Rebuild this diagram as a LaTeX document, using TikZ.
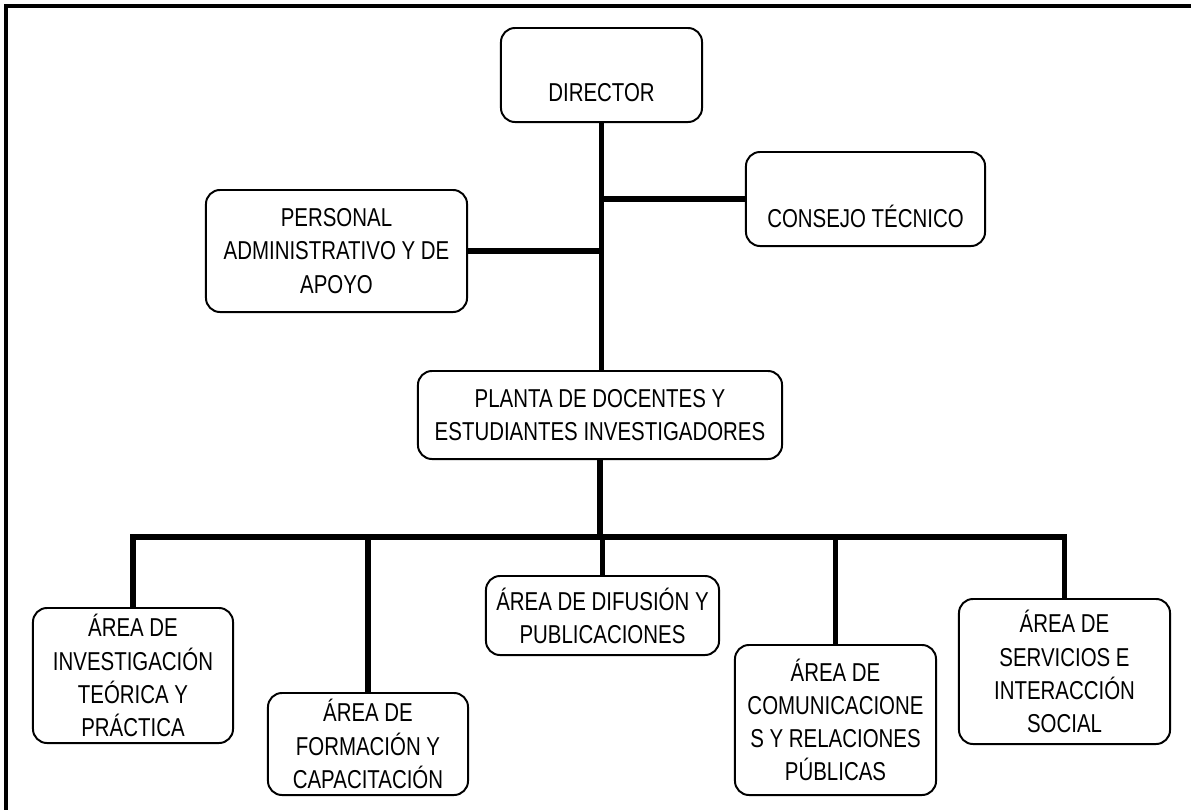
\documentclass[tikz,border=0pt]{standalone}
\usepackage{fontspec}
\setmainfont{Liberation Sans}[FakeStretch=0.79]
\begin{document}
\begin{tikzpicture}[x=0.025cm, y=-0.025cm,
		cargo/.style={draw, line width=1.4pt, rounded corners=0.35cm, align=center, inner sep=2pt, font=\fontsize{18.4}{23.6}\selectfont},
		enlace/.style={line width=4.2pt}]
				\useasboundingbox (0,0) rectangle (1191,810);
				\draw [line width=2.2pt] (1191,6) -- (6,6) -- (6,810);
				% niveles superiores
				\node [cargo, minimum width=5.025cm, minimum height=2.35cm, text height=37pt, text depth=0pt] (director) at (601.5,75) {DIRECTOR};
				\node [cargo, minimum width=5.975cm, minimum height=2.35cm, text height=40pt, text depth=0pt] (consejo) at (865.5,199) {CONSEJO TÉCNICO};
				\node [cargo, minimum width=6.525cm, minimum height=3.05cm] (personal) at (336.5,251) {PERSONAL\\ADMINISTRATIVO Y DE\\APOYO};
				\node [cargo, minimum width=9.1cm, minimum height=2.2cm] (planta) at (600,415) {PLANTA DE DOCENTES Y\\ESTUDIANTES INVESTIGADORES};
				% areas
				\node [cargo, minimum width=5cm, minimum height=3.375cm, yshift=0pt] (investigacion) at (133,675.5) {ÁREA DE\\INVESTIGACIÓN\\TEÓRICA Y\\PRÁCTICA};
				\node [cargo, minimum width=5cm, minimum height=2.55cm] (formacion) at (368,744) {ÁREA DE\\FORMACIÓN Y\\CAPACITACIÓN};
				\node [cargo, minimum width=5.825cm, minimum height=1.975cm] (difusion) at (602.5,615.5) {ÁREA DE DIFUSIÓN Y\\PUBLICACIONES};
				\node [cargo, minimum width=5.025cm, minimum height=3.75cm] (comunicaciones) at (835.5,720) {ÁREA DE\\COMUNICACIONE\\S Y RELACIONES\\PÚBLICAS};
				\node [cargo, minimum width=5.275cm, minimum height=3.625cm] (servicios) at (1064.5,671.5) {ÁREA DE\\SERVICIOS E\\INTERACCIÓN\\SOCIAL};
				% conectores
				\coordinate (barra) at (600,537);
				\draw [enlace] (director.south) -- (director.south |- planta.north);
				\draw [enlace] (consejo.west) -- (consejo.west -| director.south);
				\draw [enlace] (personal.east) -- (personal.east -| director.south);
				\draw [enlace] (planta.south) -- (planta.south |- barra);
				\draw [enlace, line cap=rect] (investigacion.north |- barra) -- (servicios.north |- barra);
				\foreach \area in {investigacion, formacion, difusion, comunicaciones, servicios}
					\draw [enlace] (\area.north |- barra) -- (\area.north);
			\end{tikzpicture}
\end{document}
